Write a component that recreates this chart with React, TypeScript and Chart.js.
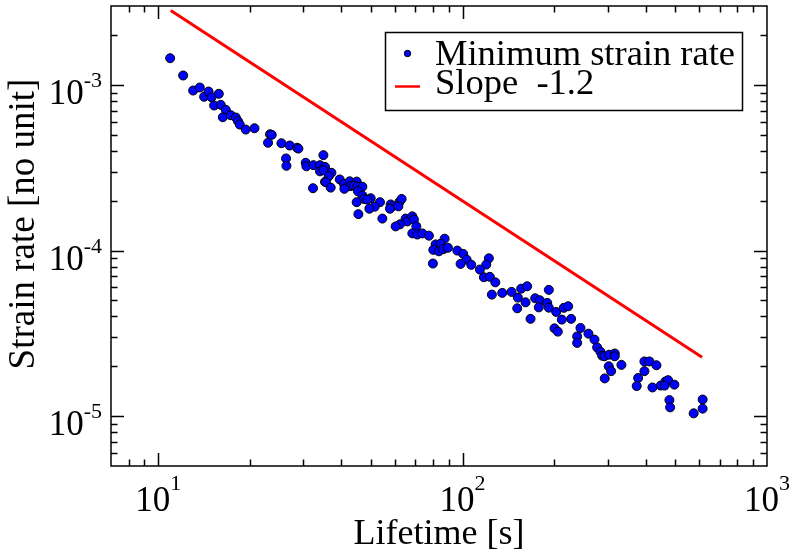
import { useEffect, useRef } from "react";
import { Chart, registerables } from "chart.js";

Chart.register(...registerables);

// Lifetime [s] of each measured sample
const lifetimes = [
  10.95, 12.08, 13.03, 13.7, 14.16, 14.64, 14.97, 15.82, 15.27, 16.06, 16.68, 16.31, 17.32, 17.99, 18.3, 18.54, 19.4,
  20.72, 23.31, 23.61, 22.96, 25.41, 27.05, 28.59, 28.89, 26.31, 26.39,
  34.9, 30.53, 30.69, 32.36, 34.02, 35.33, 34.02, 34.9, 37.08, 36.33, 35.33, 35.59, 32.26, 36.88, 39.48, 40.78,
  42.58, 42.9, 40.9, 44.89, 43.98, 45.13, 46.86, 45.33, 46.86, 47.43, 44.89, 49.9, 48.67, 45.47, 53.53, 51.43,
  49.41, 58.04, 58.79, 57.73, 61.98, 63.07, 61.52, 54.51, 65.0, 65.84, 68.38, 69.21, 62.26, 60.27, 70.48, 68.38,
  71.01, 73.75, 77.52, 87.29, 81.55, 84.69, 80.14, 83.61, 86.44, 89.5, 79.9, 96.08, 100.5, 103.1, 98.5, 106.8,
  122.0, 119.6, 114.0, 117.5, 122.9, 128.1, 124.8,
  135.0, 144.8, 151.9, 151.2, 155.8, 163.0, 161.0, 167.2, 173.2, 179.3, 178.0, 192.0, 189.7, 192.0, 203.0, 215.0,
  222.2, 211.8, 227.3, 200.4, 205.5, 243.9, 259.1, 237.9, 237.9, 271.2, 276.7, 283.7, 287.4, 292.4, 303.0, 316.1,
  316.1, 302.1, 307.6, 293.1, 332.5, 377.3, 373.3, 395.7, 395.7, 411.0, 433.3, 420.4, 447.6, 463.8, 473.3, 461.3,
  496.3, 478.0, 480.6, 574.3, 614.6, 614.6,
];

// Minimum strain rate [no unit] of each sample
const strainRates = [
  1.452e-3, 1.141e-3, 9.26e-4, 9.66e-4, 8.49e-4, 9.13e-4, 8.44e-4, 8.85e-4, 7.52e-4, 7.59e-4, 7.08e-4, 6.39e-4,
  6.57e-4, 6.36e-4, 6.04e-4, 5.77e-4, 5.38e-4, 5.48e-4, 5.04e-4, 5.0e-4, 4.48e-4, 4.45e-4, 4.31e-4, 4.18e-4,
  4.13e-4, 3.6e-4, 3.25e-4,
  3.77e-4, 3.39e-4, 3.23e-4, 3.28e-4, 3.28e-4, 3.2e-4, 3.01e-4, 3.06e-4, 2.95e-4, 2.81e-4, 2.6e-4, 2.59e-4,
  2.38e-4, 2.4e-4, 2.69e-4, 2.52e-4, 2.62e-4, 2.45e-4, 2.36e-4, 2.61e-4, 2.47e-4, 2.43e-4, 2.43e-4, 2.28e-4,
  2.15e-4, 2.05e-4, 1.96e-4, 2.07e-4, 2.03e-4, 1.66e-4, 1.96e-4, 1.84e-4, 1.79e-4, 1.9e-4, 1.85e-4, 1.79e-4,
  1.96e-4, 2.05e-4, 1.85e-4, 1.56e-4, 1.56e-4, 1.5e-4, 1.61e-4, 1.54e-4, 1.44e-4, 1.4e-4, 1.4e-4, 1.27e-4,
  1.25e-4, 1.27e-4, 1.23e-4, 1.18e-4, 1.09e-4, 1.1e-4, 1.01e-4, 9.9e-5, 1.02e-4, 1.04e-4, 8.35e-5, 1.0e-4,
  9.55e-5, 8.82e-5, 8.31e-5, 8.2e-5, 8.98e-5, 8.23e-5, 7.68e-5, 6.9e-5, 6.94e-5, 6.43e-5, 5.42e-5,
  5.55e-5, 5.63e-5, 5.2e-5, 4.48e-5, 5.89e-5, 6.09e-5, 4.87e-5, 3.87e-5, 5.15e-5, 5.01e-5, 4.54e-5, 5.79e-5,
  4.83e-5, 4.52e-5, 4.26e-5, 4.51e-5, 4.61e-5, 3.83e-5, 3.87e-5, 3.39e-5, 3.24e-5, 3.41e-5, 3.15e-5, 3.03e-5,
  2.77e-5, 2.9e-5, 2.6e-5, 2.45e-5, 2.32e-5, 2.3e-5, 2.35e-5, 2.39e-5, 2.3e-5, 2.0e-5, 1.87e-5, 1.69e-5,
  2.04e-5, 1.7e-5, 1.52e-5, 1.87e-5, 2.14e-5, 2.14e-5, 2.03e-5, 1.49e-5, 1.53e-5, 1.62e-5, 1.65e-5, 1.53e-5,
  1.55e-5, 1.25e-5, 1.13e-5, 1.04e-5, 1.26e-5, 1.11e-5,
];

// Reference power law line (end points)
const slopeLifetimes = [11, 612];
const slopeRates = [2.82e-3, 2.27e-5];

const seriesLabels = ["Minimum strain rate", "Slope  -1.2"];
const xTickValues = [10, 100, 1000];
const yTickValues = [1e-5, 1e-4, 1e-3];
const xRange = [7, 1000];
const yRange = [5e-6, 3e-3];
const xTitle = "Lifetime [s]";
const yTitle = "Strain rate [no unit]";

const FONT = '"Liberation Serif", "Times New Roman", serif';

const framePlugin = {
  id: "xmgraceFrame",
  afterDraw(chart: any) {
    const ctx: CanvasRenderingContext2D = chart.ctx;
    const { left, right, top, bottom } = chart.chartArea;
    const xs = chart.scales.x;
    const ys = chart.scales.y;
    ctx.save();
    ctx.strokeStyle = "#000";
    ctx.fillStyle = "#000";
    ctx.lineWidth = 1.5;
    ctx.strokeRect(left, top, right - left, bottom - top);

    // ticks (inside, on all four sides)
    ctx.beginPath();
    const [xmin, xmax] = xRange;
    for (let e = Math.floor(Math.log10(xmin)); e <= Math.ceil(Math.log10(xmax)); e++) {
      for (let m = 1; m <= 9; m++) {
        const v = m * Math.pow(10, e);
        if (v < xmin || v > xmax) continue;
        const p = Math.round(xs.getPixelForValue(v)) + 0.5;
        if (p <= left + 1 || p >= right - 1) continue;
        const len = m === 1 ? 13 : 6.5;
        ctx.moveTo(p, bottom);
        ctx.lineTo(p, bottom - len);
        ctx.moveTo(p, top);
        ctx.lineTo(p, top + len);
      }
    }
    const [ymin, ymax] = yRange;
    for (let e = Math.floor(Math.log10(ymin)); e <= Math.ceil(Math.log10(ymax)); e++) {
      for (let m = 1; m <= 9; m++) {
        const v = m * Math.pow(10, e);
        if (v < ymin * 0.999 || v > ymax * 1.001) continue;
        const p = Math.round(ys.getPixelForValue(v)) + 0.5;
        if (p <= top + 1 || p >= bottom - 1) continue;
        const len = m === 1 ? 13 : 6.5;
        ctx.moveTo(left, p);
        ctx.lineTo(left + len, p);
        ctx.moveTo(right, p);
        ctx.lineTo(right - len, p);
      }
    }
    ctx.stroke();

    // tick labels 10^n
    const mainFont = `35px ${FONT}`;
    const supFont = `22px ${FONT}`;
    ctx.textBaseline = "alphabetic";
    ctx.textAlign = "left";
    for (const v of xTickValues) {
      const px = xs.getPixelForValue(v);
      const exp = String(Math.round(Math.log10(v)));
      ctx.font = mainFont;
      const w10 = ctx.measureText("10").width;
      ctx.font = supFont;
      const we = ctx.measureText(exp).width;
      const start = px - (w10 + we) / 2;
      ctx.font = mainFont;
      ctx.fillText("10", start, 511);
      ctx.font = supFont;
      ctx.fillText(exp, start + w10, 490);
    }
    for (const v of yTickValues) {
      const py = ys.getPixelForValue(v);
      const exp = String(Math.round(Math.log10(v)));
      ctx.font = supFont;
      const we = ctx.measureText(exp).width;
      const supLeft = 102 - we;
      ctx.fillText(exp, supLeft, py + 2);
      ctx.font = mainFont;
      ctx.textAlign = "right";
      ctx.fillText("10", supLeft, py + 19);
      ctx.textAlign = "left";
    }

    // axis titles
    ctx.font = `36px ${FONT}`;
    ctx.textAlign = "center";
    ctx.fillText(xTitle, (left + right) / 2, 544);
    ctx.save();
    ctx.translate(34, 224);
    ctx.rotate(-Math.PI / 2);
    ctx.font = `37px ${FONT}`;
    ctx.fillText(yTitle, 0, 0);
    ctx.restore();

    // legend
    const ds = chart.data.datasets;
    const bx = 385.5, by = 32.5, bw = 357, bh = 78;
    ctx.fillStyle = "#fff";
    ctx.fillRect(bx, by, bw, bh);
    ctx.lineWidth = 1.5;
    ctx.strokeStyle = "#000";
    ctx.strokeRect(bx, by, bw, bh);
    ctx.beginPath();
    ctx.arc(407.5, 53.5, 3.2, 0, Math.PI * 2);
    ctx.fillStyle = ds[0].backgroundColor;
    ctx.fill();
    ctx.lineWidth = 1;
    ctx.strokeStyle = "#000";
    ctx.stroke();
    ctx.beginPath();
    ctx.moveTo(395, 86.5);
    ctx.lineTo(420, 86.5);
    ctx.lineWidth = 2.5;
    ctx.strokeStyle = ds[1].borderColor;
    ctx.stroke();
    ctx.fillStyle = "#000";
    ctx.textAlign = "left";
    ctx.font = `36.5px ${FONT}`;
    ctx.fillText(ds[0].label, 435, 65);
    ctx.fillText(ds[1].label, 435, 94);
    ctx.restore();
  },
};

export default function App() {
  const canvasRef = useRef<HTMLCanvasElement | null>(null);

  useEffect(() => {
    const canvas = canvasRef.current;
    if (!canvas) return;
    const points = lifetimes.map((x, i) => ({ x, y: strainRates[i] }));
    const slope = slopeLifetimes.map((x, i) => ({ x, y: slopeRates[i] }));
    const chart = new Chart(canvas, {
      type: "scatter",
      data: {
        datasets: [
          {
            label: seriesLabels[0],
            data: points,
            backgroundColor: "#0000ff",
            borderColor: "#000000",
            borderWidth: 1,
            pointRadius: 4.5,
            order: 1,
          },
          {
            type: "line",
            label: seriesLabels[1],
            data: slope,
            borderColor: "#ff0000",
            backgroundColor: "#ff0000",
            borderWidth: 3,
            pointRadius: 0,
            showLine: true,
            fill: false,
            order: 2,
          } as any,
        ],
      },
      options: {
        animation: false,
        responsive: false,
        devicePixelRatio: 1,
        layout: { padding: { left: 0, right: 25, top: 6, bottom: 0 } },
        plugins: {
          legend: { display: false },
          tooltip: { enabled: false },
        },
        scales: {
          x: {
            type: "logarithmic",
            min: xRange[0],
            max: xRange[1],
            ticks: { display: false },
            grid: { display: false },
            border: { display: false },
            afterFit: (s: any) => {
              s.height = 86;
            },
          },
          y: {
            type: "logarithmic",
            min: yRange[0],
            max: yRange[1],
            ticks: { display: false },
            grid: { display: false },
            border: { display: false },
            afterFit: (s: any) => {
              s.width = 111;
            },
          },
        },
      },
      plugins: [framePlugin],
    });
    return () => chart.destroy();
  }, []);

  return (
    <div style={{ position: "fixed", left: 0, top: 0, width: 792, height: 552, background: "#fff" }}>
      <canvas ref={canvasRef} width={792} height={552} style={{ display: "block" }} />
    </div>
  );
}
